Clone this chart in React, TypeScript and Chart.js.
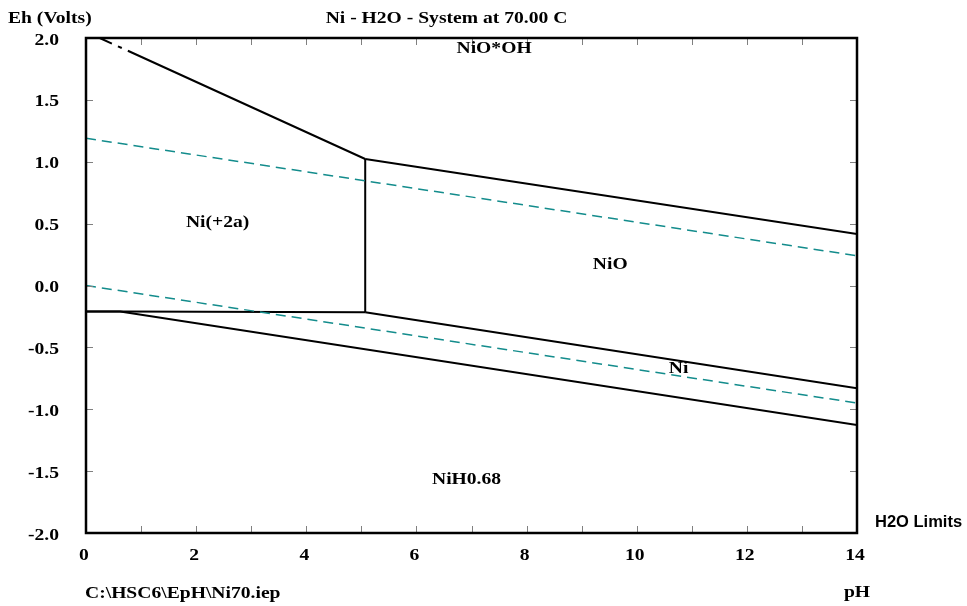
import React, { useEffect, useRef } from "react";
import { Chart, registerables } from "chart.js";

Chart.register(...registerables);

// Axis ranges
const PH_MIN = 0;
const PH_MAX = 14;
const EH_MIN = -2;
const EH_MAX = 2;

// Stability-field boundaries (pH, Eh in volts)
const niOOHNi2PH = [0.25, 0.47, null, 0.58, 0.65, null, 0.76, 5.07];
const niOOHNi2Eh = [2.0, 1.955, null, 1.933, 1.919, null, 1.897, 1.022];
const niOOHNiOPH = [5.07, 14];
const niOOHNiOEh = [1.022, 0.416];
const ni2NiOPH = [5.07, 5.07];
const ni2NiOEh = [1.022, -0.217];
const ni2NiPH = [0, 0.62, 5.07];
const ni2NiEh = [-0.21, -0.21, -0.217];
const niONiPH = [5.07, 14];
const niONiEh = [-0.217, -0.831];
const niNiHPH = [0, 0.62, 14];
const niNiHEh = [-0.21, -0.21, -1.127];

// Water stability limits
const waterO2PH = [0, 14];
const waterO2Eh = [1.19, 0.24];
const waterH2PH = [0, 14];
const waterH2Eh = [0.0, -0.95];

// Region labels
const regionNames = ["NiO*OH", "Ni(+2a)", "NiO", "Ni", "NiH0.68"];
const regionPH = [7.41, 2.39, 9.52, 10.76, 6.91];
const regionEh = [1.879, 0.473, 0.133, -0.707, -1.604];

const TITLE = "Ni - H2O - System at 70.00 C";
const Y_TITLE = "Eh (Volts)";
const X_TITLE = "pH";
const FILE_LABEL = "C:\\HSC6\\EpH\\Ni70.iep";
const WATER_LABEL = "H2O Limits";

const SERIF = 'bold 17.5px "Liberation Serif", "Times New Roman", serif';
const SANS = 'bold 16.5px "Liberation Sans", Arial, sans-serif';
const SX = 1.12;

function pts(xs: (number | null)[], ys: (number | null)[]) {
  return xs.map((x, i) => ({ x, y: ys[i] }));
}

function drawText(
  ctx: CanvasRenderingContext2D,
  text: string,
  x: number,
  baseline: number,
  align: "left" | "center" | "right",
  font: string,
  sx: number
) {
  ctx.save();
  ctx.font = font;
  const w = ctx.measureText(text).width * sx;
  const left = align === "left" ? x : align === "center" ? x - w / 2 : x - w;
  ctx.translate(left, baseline);
  ctx.scale(sx, 1);
  ctx.textAlign = "left";
  ctx.textBaseline = "alphabetic";
  ctx.fillStyle = "#000";
  ctx.fillText(text, 0, 0);
  ctx.restore();
}

const decorPlugin = {
  id: "decor",
  afterDraw(chart: any) {
    const ctx: CanvasRenderingContext2D = chart.ctx;
    const { left, right, top, bottom } = chart.chartArea;
    const xs = chart.scales.x;
    const ys = chart.scales.y;

    // inner tick marks
    ctx.save();
    ctx.strokeStyle = "#808080";
    ctx.lineWidth = 1;
    ctx.beginPath();
    ys.ticks.forEach((t: any) => {
      const py = Math.round(ys.getPixelForValue(t.value)) + 0.5;
      ctx.moveTo(left, py);
      ctx.lineTo(left + 7, py);
      ctx.moveTo(right, py);
      ctx.lineTo(right - 7, py);
    });
    xs.ticks.forEach((t: any) => {
      const px = Math.round(xs.getPixelForValue(t.value)) + 0.5;
      ctx.moveTo(px, top);
      ctx.lineTo(px, top + 7);
      ctx.moveTo(px, bottom);
      ctx.lineTo(px, bottom - 7);
    });
    ctx.stroke();
    ctx.restore();

    // frame
    ctx.save();
    ctx.strokeStyle = "#000";
    ctx.lineWidth = 2.5;
    ctx.strokeRect(left, top, right - left, bottom - top);
    ctx.restore();

    // tick labels
    ys.ticks.forEach((t: any) => {
      const py = ys.getPixelForValue(t.value);
      drawText(ctx, Number(t.value).toFixed(1), left - 27, py + 6.5, "right", SERIF, SX);
    });
    xs.ticks.forEach((t: any) => {
      if (Math.round(t.value) % 2 !== 0) return;
      const px = xs.getPixelForValue(t.value);
      drawText(ctx, String(Math.round(t.value)), px - 2, bottom + 26.5, "center", SERIF, SX);
    });

    // region labels
    regionNames.forEach((name, i) => {
      drawText(
        ctx,
        name,
        xs.getPixelForValue(regionPH[i]),
        ys.getPixelForValue(regionEh[i]),
        "center",
        SERIF,
        SX
      );
    });

    // titles
    drawText(ctx, Y_TITLE, 8, top - 15, "left", SERIF, SX);
    drawText(ctx, TITLE, chart.width / 2 - 37, top - 15, "center", SERIF, SX);
    drawText(ctx, FILE_LABEL, left - 1, bottom + 65, "left", SERIF, SX);
    drawText(ctx, X_TITLE, right, bottom + 64, "center", SERIF, SX);
    drawText(ctx, WATER_LABEL, right + 18, bottom - 6.5, "left", SANS, 1);
  },
};

export default function App() {
  const ref = useRef<HTMLCanvasElement | null>(null);

  useEffect(() => {
    if (!ref.current) return;
    const solid = (xs: (number | null)[], ys: (number | null)[]) => ({
      data: pts(xs, ys),
      showLine: true,
      borderColor: "#000",
      borderWidth: 2,
      pointRadius: 0,
      spanGaps: false,
      fill: false,
    });
    const dashed = (xs: number[], ys: number[]) => ({
      data: pts(xs, ys),
      showLine: true,
      borderColor: "#138c8c",
      borderWidth: 1.5,
      borderDash: [10, 6],
      pointRadius: 0,
      fill: false,
    });

    const chart = new Chart(ref.current, {
      type: "scatter",
      data: {
        datasets: [
          dashed(waterO2PH, waterO2Eh),
          dashed(waterH2PH, waterH2Eh),
          solid(niOOHNi2PH, niOOHNi2Eh),
          solid(niOOHNiOPH, niOOHNiOEh),
          solid(ni2NiOPH, ni2NiOEh),
          solid(ni2NiPH, ni2NiEh),
          solid(niONiPH, niONiEh),
          solid(niNiHPH, niNiHEh),
        ] as any,
      },
      options: {
        animation: false,
        responsive: false,
        maintainAspectRatio: false,
        events: [],
        layout: { padding: { top: 38, right: 110, left: 0, bottom: 0 } },
        plugins: {
          legend: { display: false },
          tooltip: { enabled: false },
          title: { display: false },
        },
        scales: {
          x: {
            type: "linear",
            min: PH_MIN,
            max: PH_MAX,
            ticks: { display: false, stepSize: 1 },
            grid: { display: false, drawTicks: false },
            border: { display: false },
            afterFit: (s: any) => {
              s.height = 73;
            },
          },
          y: {
            type: "linear",
            min: EH_MIN,
            max: EH_MAX,
            ticks: { display: false, stepSize: 0.5 },
            grid: { display: false, drawTicks: false },
            border: { display: false },
            afterFit: (s: any) => {
              s.width = 86;
            },
          },
        },
      } as any,
      plugins: [decorPlugin],
    });
    return () => chart.destroy();
  }, []);

  return (
    <div
      style={{
        position: "absolute",
        left: 0,
        top: 0,
        width: 967,
        height: 606,
        background: "#fff",
      }}
    >
      <canvas ref={ref} width={967} height={606} style={{ display: "block" }} />
    </div>
  );
}
